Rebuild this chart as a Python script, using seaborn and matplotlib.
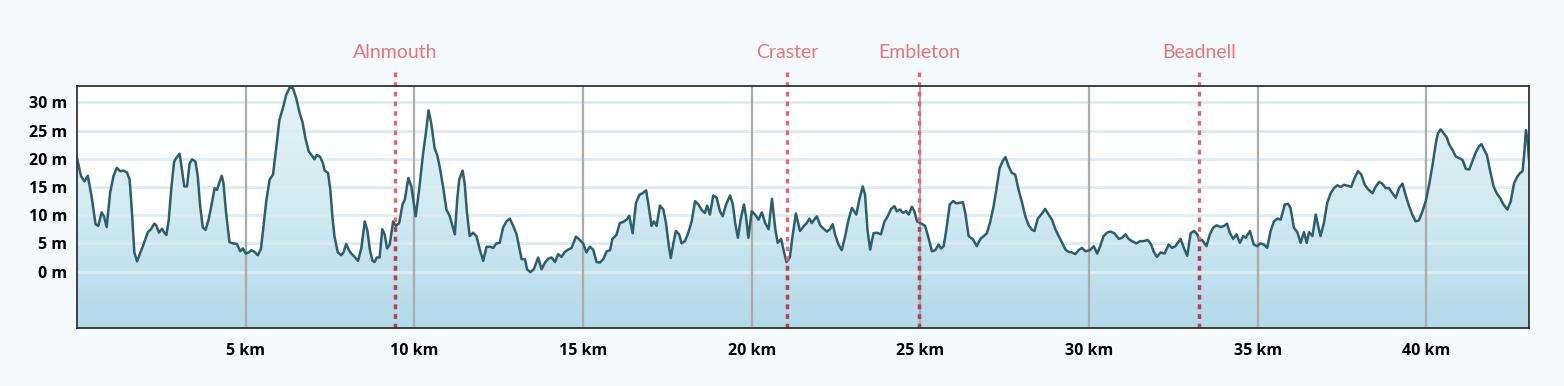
import matplotlib
matplotlib.use("Agg")
import numpy as np
import pandas as pd
import seaborn as sns
import matplotlib.pyplot as plt
from matplotlib.patches import Polygon
from matplotlib.colors import LinearSegmentedColormap

# ---------------- data ----------------
distance_km = [
    0.00, 0.12, 0.22, 0.32, 0.43, 0.55, 0.63, 0.73, 0.80, 0.88, 0.98, 1.08, 1.18, 1.28, 1.38, 1.48,
    1.56, 1.63, 1.70, 1.78, 1.88, 1.97, 2.10, 2.19, 2.29, 2.35, 2.43, 2.52, 2.59, 2.65, 2.72, 2.80,
    2.88, 2.96, 3.04, 3.11, 3.18, 3.26, 3.34, 3.41, 3.51, 3.58, 3.65, 3.73, 3.81, 3.90, 4.00, 4.08,
    4.15, 4.23, 4.29, 4.34, 4.42, 4.52, 4.62, 4.74, 4.84, 4.92, 5.00, 5.09, 5.17, 5.26, 5.36,
    5.45, 5.53, 5.61, 5.71, 5.81, 5.91, 6.00, 6.10, 6.20, 6.30, 6.40, 6.50, 6.60, 6.68, 6.78, 6.87,
    6.97, 7.04, 7.11, 7.21, 7.29, 7.34, 7.44, 7.51, 7.57, 7.63, 7.73, 7.83, 7.90, 7.98, 8.06, 8.13,
    8.23, 8.33, 8.43, 8.53, 8.61, 8.68, 8.76, 8.82, 8.89, 8.97, 9.05, 9.12, 9.19, 9.27, 9.37, 9.45,
    9.55, 9.65, 9.72, 9.82, 9.91, 10.04, 10.14, 10.26, 10.34, 10.42, 10.50, 10.60, 10.68,
    10.75, 10.85, 10.95, 11.05, 11.13, 11.20, 11.27, 11.33, 11.43, 11.49, 11.56, 11.64, 11.74, 11.84,
    11.94, 12.04, 12.14, 12.24, 12.34, 12.43, 12.53, 12.63, 12.73, 12.83, 12.93, 13.03, 13.11, 13.18,
    13.28, 13.34, 13.44, 13.54, 13.67, 13.77, 13.87, 13.97, 14.07, 14.17, 14.26, 14.36, 14.46, 14.56,
    14.66, 14.79, 14.89, 15.01, 15.10, 15.20, 15.30, 15.40, 15.50, 15.60, 15.70, 15.80, 15.87, 15.99,
    16.09, 16.19, 16.29, 16.37, 16.47, 16.57, 16.67, 16.77, 16.87, 16.93, 17.03, 17.10, 17.18, 17.28,
    17.38, 17.46, 17.53, 17.60, 17.68, 17.75, 17.85, 17.92, 18.02, 18.12, 18.22, 18.32, 18.42, 18.52,
    18.61, 18.68, 18.76, 18.86, 18.96, 19.06, 19.14, 19.24, 19.36, 19.44, 19.51, 19.59, 19.67, 19.77,
    19.83, 19.90, 20.00, 20.10, 20.20, 20.30, 20.40, 20.50, 20.60, 20.70, 20.77, 20.87, 20.94, 21.03,
    21.13, 21.21, 21.31,
    21.43, 21.55, 21.63, 21.71, 21.78, 21.85, 21.93, 22.03, 22.13, 22.23, 22.32, 22.40, 22.47, 22.57,
    22.67, 22.77, 22.87, 22.97, 23.10, 23.19, 23.29, 23.36, 23.43, 23.51, 23.61, 23.71, 23.83, 23.93,
    24.03, 24.13, 24.23, 24.30, 24.40, 24.48, 24.58, 24.65, 24.75, 24.82, 24.90, 25.00, 25.14, 25.24,
    25.34, 25.44, 25.54, 25.61, 25.69, 25.77, 25.87, 25.97, 26.06, 26.18, 26.26, 26.33, 26.43, 26.56,
    26.67,
    26.78, 26.88, 26.97, 27.07, 27.17, 27.25, 27.35, 27.45, 27.52, 27.62, 27.71, 27.81, 27.91, 28.01,
    28.11, 28.21, 28.31, 28.38, 28.48, 28.58, 28.70, 28.80, 28.90, 29.00, 29.10, 29.20, 29.30, 29.39,
    29.49, 29.59, 29.69, 29.79, 29.89, 30.02, 30.14, 30.24, 30.33, 30.43, 30.53, 30.63, 30.75, 30.88,
    30.98, 31.08, 31.17, 31.27, 31.40, 31.52, 31.62, 31.74, 31.84, 31.91, 32.01,
    32.12, 32.24, 32.36, 32.46, 32.56, 32.71, 32.81, 32.91, 33.01, 33.11, 33.21, 33.26, 33.35, 33.48,
    33.58, 33.68, 33.78, 33.90, 34.00, 34.09, 34.17, 34.27, 34.37, 34.47, 34.57, 34.64, 34.77, 34.88,
    34.98, 35.08, 35.18, 35.28, 35.38, 35.48, 35.58, 35.68, 35.80, 35.90, 35.97, 36.07, 36.17, 36.27,
    36.37, 36.45, 36.52, 36.62, 36.72, 36.79, 36.86, 36.96, 37.06, 37.16, 37.26, 37.36,
    37.46, 37.56, 37.66, 37.77, 37.87, 37.97, 38.07, 38.17, 38.27, 38.40, 38.50, 38.60, 38.69, 38.79,
    38.89, 38.99, 39.09, 39.19, 39.29, 39.38, 39.48, 39.58, 39.68, 39.78, 39.88, 39.98, 40.08, 40.18,
    40.28, 40.34, 40.42, 40.50, 40.60, 40.67, 40.77, 40.87, 40.97, 41.07, 41.17, 41.27, 41.36, 41.46,
    41.56, 41.63, 41.71, 41.79, 41.89, 41.99, 42.09, 42.18, 42.28, 42.40, 42.50, 42.60, 42.70, 42.78,
    42.85, 42.90, 42.95, 43.00, 43.04,
]
elevation_m = [
    20.1, 16.9, 16.0, 17.0, 13.4, 8.4, 8.1, 10.5, 9.8, 7.9, 13.9, 16.9, 18.4, 17.8, 17.9, 17.6,
    16.3, 10.4, 3.4, 1.8, 3.4, 4.8, 7.0, 7.5, 8.5, 8.2, 6.9, 7.6, 6.9, 6.5, 9.2, 15.1,
    19.5, 20.3, 20.9, 18.1, 15.1, 15.1, 19.2, 19.9, 19.5, 16.9, 11.6, 7.8, 7.4, 9.2, 12.2, 14.8,
    14.5, 16.0, 17.0, 15.7, 10.4, 5.2, 5.0, 4.9, 3.6, 4.1, 3.2, 3.4, 3.8, 3.5, 2.9,
    4.0, 8.1, 12.5, 16.3, 17.2, 22.2, 26.9, 28.9, 31.3, 32.6, 32.5, 30.7, 28.1, 26.6, 23.4, 21.3,
    20.5, 19.9, 20.7, 20.3, 19.2, 17.9, 17.5, 14.5, 9.8, 6.3, 3.4, 2.9, 3.4, 4.9, 3.8, 3.2,
    2.6, 1.9, 4.2, 8.9, 7.2, 3.9, 1.9, 1.7, 2.5, 2.5, 7.5, 6.6, 4.1, 4.8, 8.9, 8.1,
    8.6, 11.9, 12.8, 16.6, 15.1, 9.8, 14.5, 21.0, 24.5, 28.6, 26.3, 21.9, 20.6,
    18.6, 15.1, 11.0, 9.8, 8.1, 6.6, 12.8, 16.3, 17.9, 15.7, 10.4, 6.3, 6.9, 6.3,
    3.9, 1.9, 4.4, 4.4, 4.2, 5.0, 5.1, 7.8, 8.9, 9.4, 8.1, 6.6, 4.2, 2.2,
    2.2, 0.4, -0.1, 0.4, 2.5, 0.4, 1.6, 2.3, 2.5, 1.7, 3.1, 2.6, 3.5, 3.9,
    4.2, 6.2, 5.7, 4.9, 3.4, 4.4, 3.9, 1.7, 1.6, 2.2, 3.6, 3.8, 5.8, 6.5,
    8.6, 8.8, 9.2, 9.9, 6.8, 12.2, 13.6, 13.9, 14.4, 12.2, 8.1, 8.9, 8.1, 11.7,
    11.0, 8.6, 5.1, 2.4, 5.1, 7.2, 6.6, 5.0, 5.4, 6.9, 8.9, 12.5, 11.9, 10.9,
    10.4, 11.7, 10.1, 13.5, 13.1, 10.7, 9.8, 11.9, 13.5, 11.9, 8.6, 6.0, 9.2, 11.9,
    9.8, 6.0, 10.7, 10.1, 9.2, 10.5, 8.6, 7.5, 12.9, 7.5, 5.1, 5.8, 3.9, 1.7,
    2.5, 6.3, 10.3,
    7.2, 8.1, 8.6, 9.4, 8.6, 9.2, 9.8, 8.2, 7.6, 7.1, 7.5, 8.4, 6.6, 4.8,
    3.8, 6.3, 9.2, 11.3, 10.1, 12.8, 15.1, 13.6, 7.5, 3.9, 6.8, 6.9, 6.6, 8.8,
    9.8, 11.1, 11.6, 10.7, 11.0, 10.4, 10.7, 10.1, 11.5, 10.7, 8.9, 8.6, 8.1, 6.0,
    3.6, 3.8, 4.8, 4.1, 4.5, 7.5, 11.9, 12.5, 12.1, 12.2, 12.3, 10.4, 6.3, 5.7,
    4.5,
    5.8, 6.3, 6.8, 8.8, 11.6, 14.5, 18.4, 19.7, 20.3, 18.6, 17.5, 17.2, 14.5, 12.3,
    9.8, 8.2, 7.4, 7.2, 9.4, 10.1, 11.1, 10.1, 9.2, 7.5, 6.3, 5.1, 3.9, 3.5,
    3.4, 3.1, 3.8, 4.2, 3.6, 3.8, 4.5, 3.2, 4.5, 6.3, 6.9, 7.1, 6.8, 5.8,
    6.0, 6.6, 5.8, 5.4, 5.0, 5.4, 5.4, 5.6, 4.8, 3.6, 2.6,
    3.4, 3.2, 4.8, 4.2, 4.5, 5.8, 4.2, 2.8, 6.8, 7.2, 6.6, 5.7, 5.6, 4.5,
    6.6, 7.8, 8.2, 7.9, 8.1, 8.5, 6.9, 5.8, 6.6, 5.1, 6.3, 6.0, 7.2, 4.8,
    4.5, 5.0, 4.8, 4.2, 7.2, 8.9, 9.4, 9.2, 11.9, 12.0, 11.3, 7.8, 7.0, 5.1,
    7.0, 5.1, 7.0, 6.3, 10.1, 8.1, 6.3, 8.6, 12.2, 13.9, 14.8, 15.3,
    15.0, 15.4, 15.2, 15.0, 16.6, 17.8, 17.2, 15.4, 14.6, 13.9, 15.1, 15.9, 15.6, 14.8,
    14.8, 13.9, 13.1, 14.8, 15.6, 13.6, 11.7, 10.1, 8.9, 9.1, 10.7, 12.5, 15.4, 18.9,
    22.8, 24.5, 25.2, 24.6, 23.8, 22.6, 21.6, 20.4, 20.1, 19.8, 18.2, 18.1, 19.5, 21.1,
    22.2, 22.6, 21.6, 20.7, 17.8, 15.1, 13.8, 13.1, 11.9, 11.0, 12.5, 15.7, 16.9, 17.5,
    17.8, 21.0, 25.1, 23.1, 19.8,
]
town_names = ["Alnmouth", "Craster", "Embleton", "Beadnell"]
town_km = [9.42, 21.06, 24.97, 33.25]
x_ticks_km = [5, 10, 15, 20, 25, 30, 35, 40]
y_ticks_m = [0, 5, 10, 15, 20, 25, 30]

# ---------------- style ----------------
sns.set_theme(style="white")
plt.rcParams["font.family"] = ["Open Sans", "DejaVu Sans"]

W, H = 1564, 386
fig = plt.figure(figsize=(W / 100, H / 100), dpi=100, facecolor="#f5fafc")
ax = fig.add_axes([77 / W, 1 - 328 / H, (1529 - 77) / W, (328 - 86) / H])
ax.set_facecolor("white")

xmin, xmax = 0, distance_km[-1]
ymin, ymax = -10, 32.9
ax.set_xlim(xmin, xmax)
ax.set_ylim(ymin, ymax)

df = pd.DataFrame({"km": distance_km, "m": elevation_m})

# gradient area under the profile
verts = [(xmin, ymin)] + list(zip(df["km"], df["m"])) + [(xmax, ymin)]
area = Polygon(verts, closed=True, facecolor="none", edgecolor="none", transform=ax.transData)
ax.add_patch(area)
cmap = LinearSegmentedColormap.from_list("elev", ["#e6f3f8", "#d2eaf2", "#b3d9e8"])
grad = np.linspace(0, 1, 256).reshape(-1, 1)
im = ax.imshow(grad, extent=(xmin, xmax, ymin, ymax), origin="upper", aspect="auto",
               cmap=cmap, zorder=1, interpolation="bicubic")
im.set_clip_path(area)

# gridlines
for v in y_ticks_m:
    ax.axhline(v, color="#dbecf3", lw=2.0, zorder=2)
for v in x_ticks_km:
    ax.axvline(v, color="#ababab", lw=1.6, zorder=2.5)

# profile line
sns.lineplot(data=df, x="km", y="m", ax=ax, color="#2c5f6b", lw=1.8,
             estimator=None, sort=False, zorder=4)

# town markers
tr = ax.get_xaxis_transform()
dash = (0, (1.4, 1.5))
for name, xd in zip(town_names, town_km):
    ax.plot([xd, xd], [0, 1.074], transform=tr, color="#e9646d", lw=2.4,
            ls=dash, clip_on=False, zorder=5, dash_capstyle="butt")
    dark, = ax.plot([xd, xd], [0, 1.074], transform=tr, color="#a8475a", lw=2.4,
                    ls=dash, clip_on=True, zorder=5.1, dash_capstyle="butt")
    dark.set_clip_path(area)
    ax.text(xd, 1.14, name, transform=tr, ha="center", va="center", color="#e8737a",
            fontsize=14, family=["Lato", "DejaVu Sans"], fontweight="normal")

ax.set_xticks(x_ticks_km)
ax.set_xticklabels([f"{v} km" for v in x_ticks_km])
ax.set_yticks(y_ticks_m)
ax.set_yticklabels([f"{v} m" for v in y_ticks_m])
ax.tick_params(axis="both", length=0, labelsize=11.5, labelcolor="black")
ax.tick_params(axis="x", pad=11)
ax.tick_params(axis="y", pad=7)
for lab in ax.get_xticklabels() + ax.get_yticklabels():
    lab.set_fontweight("bold")
ax.set_xlabel("")
ax.set_ylabel("")
ax.grid(False)

for sp in ax.spines.values():
    sp.set_visible(True)
    sp.set_color("#333333")
    sp.set_linewidth(1.3)
    sp.set_zorder(6)

fig.savefig("out.png", dpi=100, facecolor=fig.get_facecolor())
